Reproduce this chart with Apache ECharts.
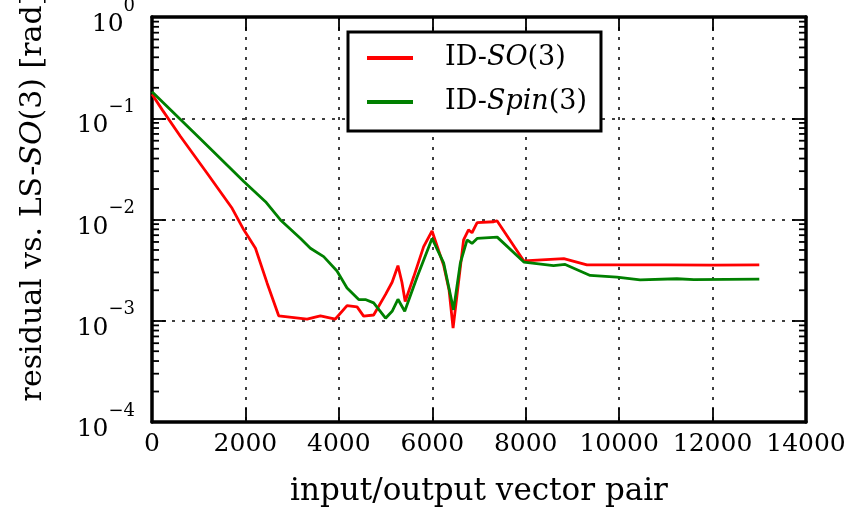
<!DOCTYPE html>
<html>
<head>
<meta charset="utf-8">
<script src="https://cdn.jsdelivr.net/npm/echarts@6/dist/echarts.min.js"></script>
<style>
  html, body { margin: 0; padding: 0; background: #fff; }
  #chart { width: 846px; height: 516px; }
</style>
</head>
<body>
<div id="chart"></div>
<script>
// values
const xSO = [0, 220, 610, 1180, 1715, 1965, 2215, 2465, 2712, 3320, 3605, 3925, 4175, 4390, 4530, 4745,
  5000, 5140, 5265, 5350, 5420, 5600, 5815, 5995, 6245, 6360, 6445, 6670, 6775, 6850, 6960, 7315, 7385,
  7960, 8815, 9310, 10000, 11000, 12000, 13000];
const ySO = [0.173, 0.121, 0.066, 0.0286, 0.0129, 0.0079, 0.0052, 0.00235, 0.00112, 0.00104, 0.00112, 0.00104, 0.00141, 0.00137, 0.00111, 0.00114,
  0.00182, 0.0024, 0.0035, 0.0024, 0.00155, 0.0027, 0.0054, 0.0077, 0.0035, 0.002, 0.000845, 0.0063, 0.0079, 0.0074, 0.0093, 0.0095, 0.0097,
  0.0039, 0.0041, 0.00356, 0.00356, 0.00357, 0.00355, 0.00357];

const xSpin = [0, 1000, 1965, 2430, 2750, 3180, 3390, 3675, 3960, 4175, 4425, 4567, 4745, 5000, 5140, 5265,
  5410, 5675, 5995, 6245, 6455, 6600, 6745, 6850, 6960, 7390, 7960, 8595, 8845, 9380, 9950, 10450, 11235, 11600, 13000];
const ySpin = [0.183, 0.065, 0.0237, 0.015, 0.0099, 0.0065, 0.0052, 0.0043, 0.0031, 0.00211, 0.00162, 0.00162, 0.0015, 0.00106, 0.00124, 0.00163,
  0.00124, 0.0027, 0.0065, 0.0037, 0.00128, 0.0037, 0.0063, 0.0058, 0.0065, 0.0067, 0.0038, 0.0035, 0.0036, 0.0028, 0.0027, 0.00253, 0.0026, 0.00255, 0.00258];

const xTicks = [0, 14000, 2000];       // min, max, step
const yDecades = [-4, -3, -2, -1];     // decades that get minor ticks
const minorSteps = [2, 3, 4, 5, 6, 7, 8, 9];

const FONT = 'DejaVu Serif';

const pairs = (xs, ys) => xs.map((x, i) => [x, ys[i]]);

const chart = echarts.init(document.getElementById('chart'));

const spine = () => ({ show: true, onZero: false, lineStyle: { color: '#000', width: 3.5 } });
const majorTick = () => ({ show: true, inside: true, length: 14, lineStyle: { color: '#000', width: 1.8 } });
const grid = () => ({ show: true, lineStyle: { color: '#000', width: 1.5, type: [3, 7] } });

const option = {
  animation: false,
  backgroundColor: '#fff',
  grid: { left: 152, right: 40, top: 17, bottom: 94, outerBoundsMode: 'none', containLabel: false },
  legend: {
    orient: 'vertical',
    left: 348, top: 32,
    padding: [9, 14, 12, 19],
    itemGap: 10,
    icon: 'rect',
    itemWidth: 46, itemHeight: 4,
    borderColor: '#000', borderWidth: 3, borderRadius: 0,
    backgroundColor: '#fff',
    data: ['ID-SO(3)', 'ID-Spin(3)'],
    formatter: name => name.replace(/ID-(\w+)\(3\)/, 'ID-{i|$1}(3)'),
    textStyle: {
      fontFamily: FONT, fontSize: 27, color: '#000', lineHeight: 34,
      padding: [0, 0, 0, 27],
      rich: { i: { fontFamily: FONT, fontSize: 27, fontStyle: 'italic', color: '#000' } }
    }
  },
  xAxis: [
    {
      type: 'value', min: xTicks[0], max: xTicks[1], interval: xTicks[2], position: 'bottom',
      axisLine: spine(), axisTick: majorTick(), splitLine: grid(),
      name: 'input/output vector pair', nameLocation: 'middle', nameGap: 54,
      nameTextStyle: { fontFamily: FONT, fontSize: 31, color: '#000' },
      axisLabel: { fontFamily: FONT, fontSize: 25, color: '#000', margin: 10, formatter: v => String(v) }
    },
    {
      type: 'value', min: xTicks[0], max: xTicks[1], interval: xTicks[2], position: 'top',
      axisLine: spine(), axisTick: majorTick(), axisLabel: { show: false }, splitLine: { show: false }
    }
  ],
  yAxis: [
    {
      type: 'log', logBase: 10, min: 1e-4, max: 1, position: 'left',
      axisLine: spine(), axisTick: majorTick(), splitLine: grid(),
      name: 'residual vs. LS-{i|SO}(3) [rad]', nameLocation: 'middle', nameGap: 104,
      nameTextStyle: {
        fontFamily: FONT, fontSize: 30, color: '#000',
        padding: [0, 0, 0, 44],
        rich: { i: { fontFamily: FONT, fontSize: 30, fontStyle: 'italic', color: '#000' } }
      },
      axisLabel: {
        margin: 17,
        formatter: v => {
          const e = Math.round(Math.log10(v));
          return '{b|10}{s|' + (e === 0 ? '0' : '\u2212' + (-e)) + '}';
        },
        rich: {
          b: { fontFamily: FONT, fontSize: 25, color: '#000', lineHeight: 40, verticalAlign: 'bottom' },
          s: { fontFamily: FONT, fontSize: 18, color: '#000', lineHeight: 40, verticalAlign: 'top' }
        }
      }
    },
    {
      type: 'log', logBase: 10, min: 1e-4, max: 1, position: 'right',
      axisLine: spine(), axisTick: majorTick(), axisLabel: { show: false }, splitLine: { show: false }
    }
  ],
  series: [
    {
      name: 'ID-SO(3)', type: 'line', data: pairs(xSO, ySO),
      showSymbol: false, symbol: 'none',
      lineStyle: { color: '#ff0000', width: 2.8 }, itemStyle: { color: '#ff0000' }
    },
    {
      name: 'ID-Spin(3)', type: 'line', data: pairs(xSpin, ySpin),
      showSymbol: false, symbol: 'none',
      lineStyle: { color: '#008000', width: 2.8 }, itemStyle: { color: '#008000' }
    }
  ]
};

chart.setOption(option);

// minor log ticks on the left and right spines, placed through the y scale
const minorLines = [];
yDecades.forEach(e => minorSteps.forEach(k => {
  const v = k * Math.pow(10, e);
  const l = chart.convertToPixel({ xAxisIndex: 0, yAxisIndex: 0 }, [xTicks[0], v]);
  const r = chart.convertToPixel({ xAxisIndex: 0, yAxisIndex: 0 }, [xTicks[1], v]);
  minorLines.push({ type: 'line', silent: true, z: 10, shape: { x1: l[0], y1: l[1], x2: l[0] + 7, y2: l[1] }, style: { stroke: '#000', lineWidth: 1.8 } });
  minorLines.push({ type: 'line', silent: true, z: 10, shape: { x1: r[0] - 7, y1: r[1], x2: r[0], y2: r[1] }, style: { stroke: '#000', lineWidth: 1.8 } });
}));
chart.setOption({ graphic: minorLines });
</script>
</body>
</html>
